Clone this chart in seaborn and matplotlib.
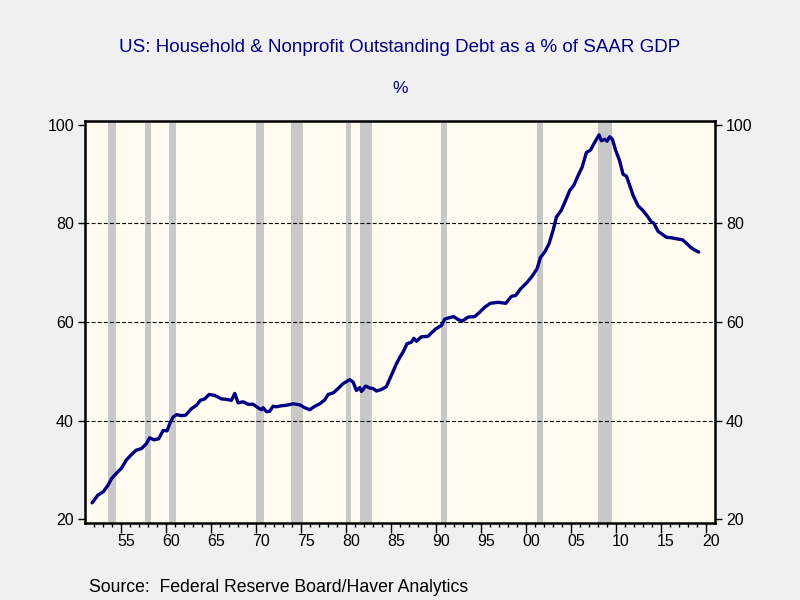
import matplotlib
matplotlib.use("Agg")
import matplotlib.pyplot as plt
import matplotlib.transforms as mtransforms
import seaborn as sns
import pandas as pd
import numpy as np

# ---- data ----
years = [1951.74, 1952.40, 1952.96, 1953.52, 1953.89, 1954.44, 1954.99, 1955.55, 1956.11, 1956.66,
         1957.22, 1957.77, 1958.14, 1958.59, 1959.14, 1959.63, 1960.07, 1960.37, 1960.74, 1961.11,
         1961.66, 1962.14, 1962.77, 1963.33, 1963.77, 1964.26, 1964.74, 1965.37, 1966.11, 1966.66,
         1967.22, 1967.59, 1967.96, 1968.52, 1969.07, 1969.63, 1970.18, 1970.55, 1970.74, 1971.11,
         1971.48, 1971.85, 1972.22, 1972.77, 1973.33, 1974.07, 1974.81, 1975.37, 1975.92, 1976.48,
         1977.03, 1977.59, 1977.96, 1978.52, 1979.07, 1979.63, 1980.37, 1980.74, 1981.11, 1981.48,
         1981.66, 1982.14, 1982.59, 1982.96, 1983.33, 1983.89, 1984.44, 1985.00, 1985.55, 1985.92,
         1986.29, 1986.73, 1987.22, 1987.48, 1987.77, 1988.33, 1989.07, 1989.44, 1989.92, 1990.55,
         1990.92, 1991.48, 1991.92, 1992.40, 1992.88, 1993.51, 1994.25, 1994.81, 1995.36, 1995.99,
         1996.85, 1997.70, 1998.33, 1998.81, 1999.33, 2000.00, 2000.55, 2001.18, 2001.55, 2002.03,
         2002.51, 2002.96, 2003.33, 2003.88, 2004.33, 2004.81, 2005.25, 2005.73, 2006.18, 2006.66,
         2007.11, 2007.59, 2008.07, 2008.33, 2008.70, 2008.96, 2009.25, 2009.55, 2009.92, 2010.36,
         2010.73, 2011.11, 2011.48, 2011.85, 2012.40, 2012.96, 2013.51, 2013.88, 2014.14, 2014.62,
         2015.18, 2015.55, 2016.11, 2016.66, 2017.33, 2017.77, 2018.22, 2018.70, 2019.14]
debt_pct_gdp = [23.3, 24.9, 25.5, 26.9, 28.2, 29.3, 30.3, 32.0, 33.1, 34.0,
                34.3, 35.3, 36.5, 36.1, 36.3, 38.0, 37.9, 39.4, 40.7, 41.2,
                41.0, 41.1, 42.4, 43.1, 44.1, 44.4, 45.3, 45.1, 44.4, 44.3,
                44.1, 45.5, 43.6, 43.8, 43.3, 43.3, 42.6, 42.2, 42.6, 41.8,
                41.9, 42.9, 42.8, 43.0, 43.1, 43.4, 43.2, 42.6, 42.2, 42.9,
                43.4, 44.2, 45.3, 45.6, 46.5, 47.5, 48.3, 47.8, 46.1, 46.7,
                45.9, 47.0, 46.6, 46.5, 46.0, 46.3, 46.9, 49.2, 51.5, 52.8,
                53.9, 55.6, 55.9, 56.7, 56.1, 57.0, 57.1, 57.8, 58.6, 59.3,
                60.6, 60.9, 61.1, 60.5, 60.2, 61.0, 61.1, 62.0, 63.0, 63.8,
                64.0, 63.8, 65.2, 65.4, 66.7, 67.9, 69.1, 70.8, 73.1, 74.2,
                75.9, 78.6, 81.3, 82.7, 84.6, 86.7, 87.7, 89.7, 91.4, 94.4,
                94.9, 96.5, 98.0, 96.8, 97.1, 96.7, 97.6, 97.1, 94.8, 92.7,
                90.0, 89.6, 87.7, 85.7, 83.6, 82.6, 81.3, 80.3, 80.1, 78.4,
                77.7, 77.2, 77.1, 76.9, 76.7, 76.0, 75.2, 74.6, 74.2]

recession_start = [1953.5, 1957.6, 1960.3, 1969.9, 1973.85, 1980.0, 1981.5, 1990.5, 2001.2, 2007.9]
recession_end = [1954.4, 1958.25, 1961.1, 1970.85, 1975.2, 1980.5, 1982.85, 1991.2, 2001.85, 2009.5]

tick_years = list(range(1955, 2021, 5))
tick_labels = ["55", "60", "65", "70", "75", "80", "85", "90", "95", "00", "05", "10", "15", "20"]
y_ticks = [20, 40, 60, 80, 100]

title = "US: Household & Nonprofit Outstanding Debt as a % of SAAR GDP"
subtitle = "%"
source = "Source:  Federal Reserve Board/Haver Analytics"

# ---- style ----
sns.set_theme(style="ticks")
plt.rcParams["font.family"] = ["Liberation Sans", "DejaVu Sans"]

NAVY = "#000080"
fig = plt.figure(figsize=(8, 6), dpi=100, facecolor="#f0f0f0")
ax = fig.add_axes([0.10625, 0.1283, 0.7875, 0.67])
ax.set_facecolor("#fffbf0")

df = pd.DataFrame({"year": years, "value": debt_pct_gdp})

for s, e in zip(recession_start, recession_end):
    ax.axvspan(s, e, color="#c8c8c8", lw=0, zorder=1)

for yv in y_ticks[1:-1]:
    ax.axhline(yv, color="black", lw=0.8, ls=(0, (3.5, 2)), zorder=2)

sns.lineplot(data=df, x="year", y="value", ax=ax, color=NAVY, lw=2.4, zorder=3,
             estimator=None, sort=False)

ax.set_xlim(1950.95, 2020.95)
ax.set_ylim(19.2, 100.8)
ax.set_xlabel("")
ax.set_ylabel("")

ax.set_yticks(y_ticks)
ax.set_yticklabels([str(v) for v in y_ticks])
ax.tick_params(axis="y", which="both", direction="out", length=5, width=1,
               labelsize=11.5, colors="black", left=True, right=True,
               labelleft=True, labelright=True, pad=3)

ax.set_xticks(tick_years)
ax.set_xticklabels(tick_labels)
ax.set_xticks(list(range(1952, 2021)), minor=True)
ax.tick_params(axis="x", which="major", direction="out", length=7, width=1,
               labelsize=11.5, colors="black", pad=1)
ax.tick_params(axis="x", which="minor", direction="out", length=3, width=1,
               colors="black")
offset = mtransforms.ScaledTranslation(4.5 / 100, 0, fig.dpi_scale_trans)
for lab in ax.get_xticklabels():
    lab.set_transform(lab.get_transform() + offset)

for sp in ax.spines.values():
    sp.set_visible(True)
    sp.set_color("black")
    sp.set_linewidth(1.8)

fig.text(0.5, 1 - 47 / 600, title, ha="center", va="center", color=NAVY, fontsize=13.5)
fig.text(0.5, 1 - 88 / 600, subtitle, ha="center", va="center", color=NAVY, fontsize=12.5)
fig.text(89 / 800, 1 - 588 / 600, source, ha="left", va="center", color="black", fontsize=12.7)

fig.savefig("out.png", dpi=100, facecolor=fig.get_facecolor())
